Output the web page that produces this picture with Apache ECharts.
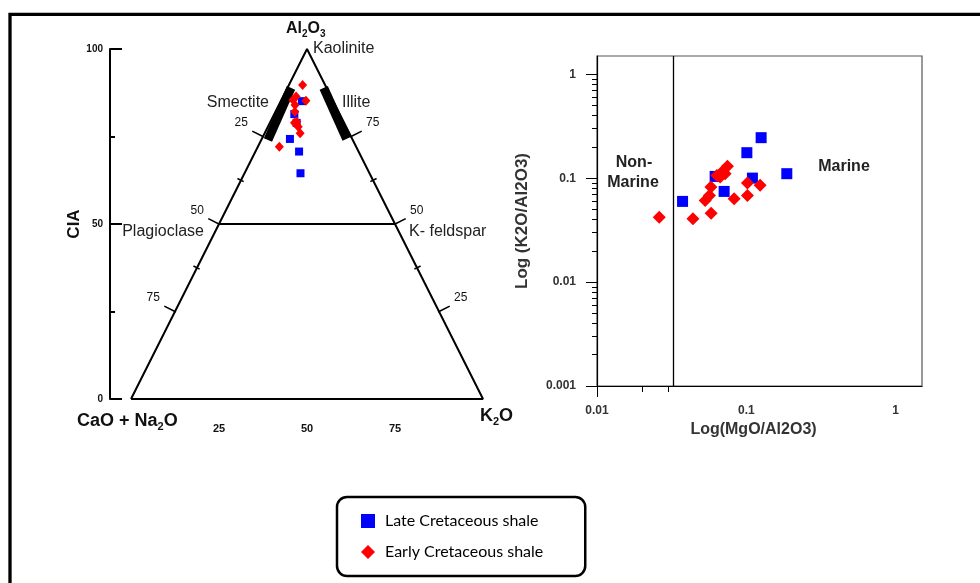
<!DOCTYPE html>
<html>
<head>
<meta charset="utf-8">
<title>A-CN-K ternary and K2O/Al2O3 vs MgO/Al2O3</title>
<script src="https://cdn.jsdelivr.net/npm/echarts@6/dist/echarts.min.js"></script>
<style>
  html, body { margin: 0; padding: 0; background: #fff; }
  #chart { width: 980px; height: 583px; }
</style>
</head>
<body>
<div id="chart"></div>
<script>
// A-CN-K ternary points, each as [Al2O3, CaO+Na2O, K2O] in %
var lateTernary = [
  [85.1, 8.9, 6.0],
  [81.4, 12.9, 5.7],
  [78.9, 13.5, 7.6],
  [74.3, 17.7, 8.0],
  [70.7, 16.9, 12.4],
  [64.5, 19.6, 15.9]
]
var earlyTernary = [
  [89.7, 6.4, 3.9],
  [85.2, 7.7, 7.1],
  [86.4, 9.9, 3.7],
  [85.4, 11.3, 3.3],
  [84.0, 11.4, 4.6],
  [82.1, 12.4, 5.5],
  [79.2, 13.3, 7.5],
  [78.9, 14.1, 7.0],
  [77.8, 13.6, 8.6],
  [75.9, 14.0, 10.1],
  [72.1, 21.8, 6.1]
]

// MgO/Al2O3 (x) vs K2O/Al2O3 (y)
var lateRatio = [
  [0.0374, 0.0598], [0.0618, 0.104], [0.0710, 0.0746], [0.1008, 0.176],
  [0.1256, 0.2455], [0.1098, 0.1002], [0.1866, 0.1105]
]
var earlyRatio = [
  [0.0261, 0.0422], [0.0439, 0.0407], [0.0581, 0.0461], [0.0530, 0.0611],
  [0.0566, 0.0683], [0.0579, 0.0821], [0.0635, 0.1064], [0.0721, 0.1105],
  [0.0747, 0.130], [0.0697, 0.117], [0.0828, 0.0635], [0.1017, 0.0897],
  [0.1017, 0.0683], [0.1237, 0.0853], [0.0668, 0.1025]
]

// ternary frame pieces, [Al2O3, CaO+Na2O, K2O]
var triangle = [[0, 100, 0], [0, 0, 100], [100, 0, 0], [0, 100, 0]]
var feldsparLine = [[50, 50, 0], [50, 0, 50]]
var smectiteBar = [[88.9, 10.1, 1.0], [74.0, 24.1, 1.9]]
var illiteBar = [[88.9, 0.8, 10.3], [74.3, 1.6, 24.1]]
var sideTickLevels = [25, 37.5, 50, 62.5, 75]
var majorLevels = [25, 50, 75]

var xTickLabels = [0.01, 0.1, 1]
var xMinorTicks = [0.02, 0.03]
var yTickLabels = [0.001, 0.01, 0.1, 1]
var yMinorTicks = [0.002, 0.003, 0.004, 0.005, 0.006, 0.007, 0.008, 0.009,
  0.02, 0.03, 0.04, 0.05, 0.06, 0.07, 0.08, 0.09,
  0.2, 0.3, 0.4, 0.5, 0.6, 0.7, 0.8, 0.9]
var marineLimit = 0.032
var logMax = 1.5

var LATE = 'Late Cretaceous shale'
var EARLY = 'Early Cretaceous shale'
var NARROW = "'Liberation Sans Narrow', 'Liberation Sans', sans-serif"
var SANS = "'Liberation Sans', Arial, sans-serif"

// ternary -> plane: x = K + A/2, y = A
function toXY(p) {
  var s = p[0] + p[1] + p[2]
  var a = p[0] / s * 100
  var k = p[2] / s * 100
  return [k + a / 2, a]
}
function toLog(p) {
  return [Math.log10(p[0]), Math.log10(p[1])]
}
function logLabel(v) {
  return String(+Math.pow(10, v).toPrecision(3))
}

var sideTicks = []
sideTickLevels.forEach(function (l) {
  sideTicks.push([l, 0])
  sideTicks.push([l, 1])
})

function renderSideTick(params, api) {
  var level = api.value(0)
  var side = api.value(1)
  var major = majorLevels.indexOf(level) >= 0
  var base = side === 0 ? api.coord([level / 2, level]) : api.coord([100 - level / 2, level])
  var apex = api.coord([50, 100])
  var corner = side === 0 ? api.coord([0, 0]) : api.coord([100, 0])
  var ex = apex[0] - corner[0]
  var ey = apex[1] - corner[1]
  var len = Math.sqrt(ex * ex + ey * ey)
  var nx = side === 0 ? ey / len : -ey / len
  var ny = side === 0 ? -ex / len : ex / len
  var a = major ? -1 : -3
  var b = major ? 12 : 4
  var children = [{
    type: 'line',
    shape: { x1: base[0] + nx * a, y1: base[1] + ny * a, x2: base[0] + nx * b, y2: base[1] + ny * b },
    style: { stroke: '#000', lineWidth: 1.6 }
  }]
  if (major) {
    children.push({
      type: 'text',
      style: {
        x: base[0] + nx * b + (side === 0 ? -11 : 11),
        y: base[1] + ny * b - 8,
        text: String(side === 0 ? 100 - level : level),
        align: 'center', verticalAlign: 'middle',
        font: '12px ' + NARROW, fill: '#111'
      }
    })
  }
  return { type: 'group', children: children }
}

var chart = echarts.init(document.getElementById('chart'))

var frameLine = function (data, width) {
  return {
    type: 'line',
    xAxisIndex: 0, yAxisIndex: 0,
    data: data.map(toXY),
    symbol: 'none',
    silent: true,
    clip: false,
    animation: false,
    lineStyle: { color: '#000', width: width, cap: 'butt' },
    z: 1
  }
}

var subText = function (x, y, parts, size, subSize) {
  return {
    type: 'text', left: x, top: y,
    style: {
      text: parts,
      font: 'bold ' + size + 'px ' + SANS,
      fill: '#111',
      rich: {
        m: { fontSize: size, fontWeight: 'bold', fontFamily: SANS, lineHeight: size + 4 },
        s: { fontSize: subSize, fontWeight: 'bold', fontFamily: SANS, lineHeight: subSize, verticalAlign: 'bottom' }
      }
    }
  }
}
var plainText = function (x, y, text, align, font) {
  return {
    type: 'text', x: x, y: y,
    style: { text: text, align: align, verticalAlign: 'middle', font: font, fill: '#222' }
  }
}

chart.setOption({
  backgroundColor: '#fff',
  animation: false,
  textStyle: { fontFamily: SANS },
  grid: [
    { left: 131, top: 49, width: 352, height: 350 },
    { left: 597, top: 56, width: 325, height: 330, show: true, borderColor: '#555', borderWidth: 1.2 }
  ],
  legend: {
    data: [LATE, EARLY],
    orient: 'vertical',
    left: 337,
    top: 497,
    padding: [16, 42, 16, 24],
    itemGap: 15,
    itemWidth: 14,
    itemHeight: 14,
    borderColor: '#000',
    borderWidth: 2.5,
    borderRadius: 10,
    selectedMode: false,
    textStyle: { fontSize: 16, fontFamily: 'Lato', color: '#000', padding: [0, 0, 0, 5] }
  },
  xAxis: [
    {
      gridIndex: 0, type: 'value', min: 0, max: 100, interval: 25,
      axisLine: { show: false, onZero: false }, axisTick: { show: false }, splitLine: { show: false },
      axisLabel: {
        margin: 24, fontSize: 11, fontWeight: 'bold', fontFamily: NARROW, color: '#111',
        formatter: function (v) { return v > 0 && v < 100 ? String(v) : '' }
      }
    },
    {
      gridIndex: 1, type: 'value', min: -2, max: Math.log10(logMax), interval: 1, position: 'bottom',
      name: 'Log(MgO/Al2O3)', nameLocation: 'middle', nameGap: 33,
      nameTextStyle: { fontSize: 16, fontWeight: 'bold', color: '#333', fontFamily: SANS, padding: [0, 12, 0, 0] },
      axisLine: { onZero: false, lineStyle: { color: '#000', width: 1.2 } },
      axisTick: { length: 11, lineStyle: { color: '#000' }, customValues: [Math.log10(xTickLabels[0])] },
      axisLabel: {
        margin: 19, fontSize: 12, fontWeight: 'bold', color: '#333', fontFamily: SANS,
        customValues: xTickLabels.map(Math.log10), formatter: logLabel
      },
      splitLine: { show: false }
    },
    {
      gridIndex: 1, type: 'value', min: -2, max: Math.log10(logMax), position: 'bottom',
      axisLine: { show: false, onZero: false },
      axisTick: { length: 6, lineStyle: { color: '#000' }, customValues: xMinorTicks.map(Math.log10) },
      axisLabel: { show: false }, splitLine: { show: false }
    }
  ],
  yAxis: [
    {
      gridIndex: 0, type: 'value', min: 0, max: 100, interval: 50, position: 'left', offset: 21,
      name: 'CIA', nameLocation: 'middle', nameGap: 27, nameRotate: 90,
      nameTextStyle: { fontSize: 17, fontWeight: 'bold', color: '#111', fontFamily: SANS },
      axisLine: { onZero: false, lineStyle: { color: '#000', width: 2 } },
      axisTick: { inside: true, length: 12, lineStyle: { color: '#000', width: 2 } },
      axisLabel: { margin: 7, fontSize: 10, fontWeight: 'bold', color: '#111', fontFamily: NARROW },
      splitLine: { show: false }
    },
    {
      gridIndex: 0, type: 'value', min: 0, max: 100, interval: 25, position: 'left', offset: 21,
      axisLine: { show: false, onZero: false },
      axisTick: { inside: true, length: 5, lineStyle: { color: '#000', width: 2 } },
      axisLabel: { show: false }, splitLine: { show: false }
    },
    {
      gridIndex: 1, type: 'value', min: -3, max: Math.log10(logMax), interval: 1, position: 'left',
      name: 'Log (K2O/Al2O3)', nameLocation: 'middle', nameGap: 66, nameRotate: 90,
      nameTextStyle: { fontSize: 17, fontWeight: 'bold', color: '#333', fontFamily: SANS },
      axisLine: { onZero: false, lineStyle: { color: '#000', width: 1.2 } },
      axisTick: { length: 11, lineStyle: { color: '#000' }, customValues: yTickLabels.map(Math.log10) },
      axisLabel: {
        margin: 21, fontSize: 12, fontWeight: 'bold', color: '#333', fontFamily: SANS,
        customValues: yTickLabels.map(Math.log10), formatter: logLabel
      },
      splitLine: { show: false }
    },
    {
      gridIndex: 1, type: 'value', min: -3, max: Math.log10(logMax), position: 'left',
      axisLine: { show: false, onZero: false },
      axisTick: { length: 5, lineStyle: { color: '#000' }, customValues: yMinorTicks.map(Math.log10) },
      axisLabel: { show: false }, splitLine: { show: false }
    }
  ],
  series: [
    frameLine(triangle, 2),
    frameLine(feldsparLine, 2),
    frameLine(smectiteBar, 9),
    frameLine(illiteBar, 9),
    {
      type: 'custom',
      xAxisIndex: 0, yAxisIndex: 0,
      silent: true,
      renderItem: renderSideTick,
      data: sideTicks,
      z: 1
    },
    {
      name: LATE, type: 'scatter', xAxisIndex: 0, yAxisIndex: 0,
      symbol: 'rect', symbolSize: 8,
      itemStyle: { color: '#0000ff', opacity: 1 },
      data: lateTernary.map(toXY), z: 3
    },
    {
      name: EARLY, type: 'scatter', xAxisIndex: 0, yAxisIndex: 0,
      symbol: 'diamond', symbolSize: [9, 10],
      itemStyle: { color: '#ff0000', opacity: 1 },
      data: earlyTernary.map(toXY), z: 4
    },
    {
      name: LATE, type: 'scatter', xAxisIndex: 1, yAxisIndex: 2,
      symbol: 'rect', symbolSize: 11,
      itemStyle: { color: '#0000ff', opacity: 1 },
      data: lateRatio.map(toLog), z: 3,
      markLine: {
        silent: true, symbol: 'none', animation: false,
        label: { show: false },
        lineStyle: { color: '#000', width: 1.3, type: 'solid' },
        data: [{ xAxis: Math.log10(marineLimit) }]
      }
    },
    {
      name: EARLY, type: 'scatter', xAxisIndex: 1, yAxisIndex: 2,
      symbol: 'diamond', symbolSize: [13, 13],
      itemStyle: { color: '#ff0000', opacity: 1 },
      data: earlyRatio.map(toLog), z: 4
    }
  ],
  graphic: [
    {
      type: 'rect', silent: true,
      shape: { x: 10, y: 14.3, width: 1000, height: 620 },
      style: { fill: 'none', stroke: '#000', lineWidth: 3.3 }
    },
    subText(286, 21, '{m|Al}{s|2}{m|O}{s|3}', 16, 10),
    subText(77, 412, '{m|CaO + Na}{s|2}{m|O}', 18, 11),
    subText(480, 407, '{m|K}{s|2}{m|O}', 18, 11),
    plainText(313, 49, 'Kaolinite', 'left', '16px ' + SANS),
    plainText(269, 103, 'Smectite', 'right', '16px ' + SANS),
    plainText(342, 103, 'Illite', 'left', '16px ' + SANS),
    plainText(204, 232, 'Plagioclase', 'right', '16px ' + SANS),
    plainText(409, 232, 'K- feldspar', 'left', '16px ' + SANS),
    plainText(634, 163, 'Non-', 'center', 'bold 16px ' + SANS),
    plainText(633, 183, 'Marine', 'center', 'bold 16px ' + SANS),
    plainText(844, 167, 'Marine', 'center', 'bold 16px ' + SANS)
  ]
})
</script>
</body>
</html>
